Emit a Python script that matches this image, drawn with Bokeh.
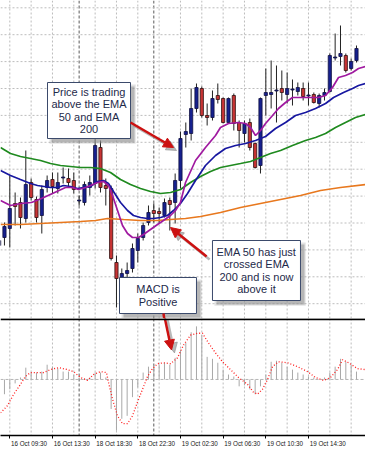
from bokeh.plotting import figure
from bokeh.models import Range1d, Span, Arrow, NormalHead, FixedTicker
from bokeh.layouts import column
from bokeh.embed import file_html
from bokeh.resources import INLINE
from bokeh.core.properties import value

# ---------------- data (30-minute bars) ----------------
bar_index = list(range(-2, 66))
opens = [73, 81, 90, 115, 116, 100, 136, 119, 103, 131, 139, 130, 140.5, 140, 138, 117.5, 116, 131,
         135, 171, 133, 130, 56, 41, 45, 50, 68, 81, 96, 108, 107, 103, 118, 116, 138, 184, 185, 210,
         230, 203, 201, 223, 220, 196, 223, 196, 185, 196, 175, 153, 223, 224, 227.5, 230, 224, 228.5,
         227, 230, 222.5, 224, 215, 223, 227, 260.5, 262, 263, 250, 258]
highs = [82, 96, 143, 126, 121, 168, 140, 122, 133, 143, 146, 146, 151, 150, 146, 123, 137, 143,
         180, 178, 140, 133, 63, 50, 56, 75, 85, 96, 113, 115, 111, 120, 121, 145, 187, 196, 230, 235,
         232, 215, 228, 235, 221, 221, 225, 198, 198, 200, 176, 221, 250, 258, 253, 248, 246, 239,
         236, 236, 236, 226, 225, 230, 265, 285, 293, 265, 260, 273]
lows = [63, 73, 71, 93, 90, 96, 118, 96, 85, 126, 125, 125, 135, 131, 125, 113, 113, 123,
        130, 126, 113, 58, 11, 35, 41, 46, 56, 78, 93, 96, 95, 101, 88, 95, 130, 171, 178, 206,
        201, 193, 198, 215, 195, 195, 188, 171, 176, 168, 150, 145, 203, 210, 196, 218, 215, 213,
        223, 218, 213, 215, 211, 218, 226, 258, 253, 246, 248, 256]
closes = [78, 92, 110, 112, 101, 134, 121, 101, 129, 138, 132, 136, 141.5, 136, 129, 118.5, 134, 136,
          173, 131, 130, 60, 40, 45, 48, 70, 80, 93, 106, 105, 105, 116, 114, 138, 180, 187, 210, 231,
          203, 201, 220, 219, 196, 220, 195, 188, 195, 171, 151, 220, 226, 226, 228.5, 226, 230, 229.5,
          231, 222, 223.5, 216, 223, 226, 263, 261.5, 265, 248, 257, 270]

# moving averages (bar position, level)
ema_fast_x = [-1.74, 0.13, 2.0, 4.07, 5.94, 8.0, 10.44, 11.76, 12.88, 14.2, 15.13, 16.44, 17.57, 18.5,
              19.26, 20.2, 21.13, 22.07, 23.0, 24.13, 25.07, 26.38, 27.7, 28.8, 30.13, 31.07, 32.0,
              32.95, 34.82, 36.69, 38.57, 39.5, 41.0, 42.88, 44.2, 45.13, 46.07, 47.0, 47.95, 49.26,
              50.38, 51.7, 53.0, 55.44, 57.88, 59.2, 60.5, 61.63, 62.94, 64.26, 65.38, 66.7]
ema_fast_y = [118, 113, 115, 116, 120, 125, 131, 131, 129, 131, 133, 136, 137, 133,
              123, 108, 93, 85, 81, 81, 84, 89, 94, 98, 103, 108, 116,
              136, 158, 171, 183, 191, 195, 196, 195, 191, 183, 188, 195, 203,
              210, 216, 221, 221, 221, 223, 231, 241, 243, 246, 250, 252]
ema50_x = [-1.74, 0.13, 2.0, 3.88, 5.19, 7.63, 8.94, 10.07, 11.38, 12.69, 13.82, 15.13, 16.44, 17.57,
           18.5, 19.44, 20.76, 22.07, 23.19, 24.51, 25.82, 26.94, 28.26, 29.57, 30.69, 32.0, 33.32,
           34.82, 36.69, 38.57, 40.44, 42.32, 44.2, 46.07, 47.95, 49.82, 51.7, 53.57, 55.44, 57.32,
           59.2, 60.7, 62.57, 64.26, 65.38, 66.7]
ema50_y = [148, 143, 139, 135, 133, 131, 131, 133, 132, 130, 131, 132, 137, 138,
           135, 127, 116, 108, 103, 101, 100, 100, 101, 103, 108, 115, 125,
           138, 153, 163, 170, 173, 175, 178, 182, 190, 196, 203, 206, 210,
           215, 221, 226, 230, 233, 235]
ema100_x = [-1.74, 0.13, 2.0, 3.88, 5.76, 7.63, 9.51, 11.38, 13.26, 15.13, 17.0, 18.88, 20.76, 22.63,
            24.51, 26.38, 28.26, 30.13, 32.0, 33.88, 35.76, 37.63, 39.51, 41.38, 43.26, 45.13, 47.0,
            48.88, 50.76, 53.0, 55.44, 57.32, 59.2, 61.07, 62.94, 64.82, 66.7]
ema100_y = [171, 165, 162, 160, 158, 155, 153, 152, 151, 151, 150, 146, 139, 134,
            130, 127, 125, 126, 129, 136, 142, 147, 151, 153, 155, 157, 161,
            165, 168, 173, 178, 181, 185, 191, 196, 201, 204]
ema200_x = [-1.74, 2.0, 5.76, 9.51, 13.26, 16.07, 18.32, 21.32, 24.51, 27.7, 30.13, 32.95, 35.76,
            39.51, 43.26, 47.0, 50.76, 54.51, 58.26, 62.0, 66.7]
ema200_y = [94, 94, 95, 96, 97, 98, 100, 99, 98, 98, 99, 100, 102,
            106, 111, 115, 119, 123, 128, 131, 134]

# MACD panel
macd_hist = [-20, -15, -10, -4, 2, 12, 7, 7, 8, 15, 13, 11, 8, 8, 5, 2, 1, 2, 7, 7, 2, -30, -52, -40,
             -37, -18, -8, 7, 13, 15, 15, 17, 15, 22, 30, 37, 48, 54, 45, 23, 21, 17, 10, 5, 3, -7,
             -6, -10, -15, -7, 5, 18, 19, 17, 13, 10, 7, 5, 3, 2, 0, 2, 7, 13, 21, 18, 15, 8]
signal_x = [-1.74, -0.49, 0.75, 2.0, 2.94, 3.88, 5.14, 6.32, 7.63, 9.13, 10.82, 11.94, 13.26, 14.57,
            15.69, 17.0, 18.13, 18.5, 19.26, 20.19, 21.13, 22.07, 23.0, 23.94, 24.88, 25.82, 26.76,
            27.7, 28.82, 30.13, 31.44, 32.57, 33.88, 35.19, 36.13, 37.26, 38.57, 39.88, 41.38, 42.88,
            44.57, 45.69, 46.44, 47.38, 48.32, 49.26, 50.38, 52.07, 53.94, 55.82, 57.32, 58.82, 60.13,
            61.44, 62.38, 63.51, 65.2, 66.7]
signal_y = [-34, -27, -15, -5, 3, 7, 7, 7, 10, 12, 10, 8, 2, -1,
            5, 8, 7, -3, -20, -37, -45, -45, -37, -23, -10, 3, 11,
            16, 17, 16, 22, 35, 45, 47, 47, 37, 27, 18, 10, 2,
            -5, -13, -15, -10, 0, 13, 18, 17, 13, 8, 2, -1, 2,
            10, 20, 17, 11, 10]

# axis / grid
tick_index = [0, 8, 16, 24, 32, 40, 48, 56]
tick_labels = ["16 Oct 09:30", "16 Oct 13:30", "18 Oct 18:30", "18 Oct 22:30",
               "19 Oct 02:30", "19 Oct 06:30", "19 Oct 10:30", "19 Oct 14:30"]
grid_index = list(range(0, 68, 4))
day_separators = [13, 27]
price_grid = [14.8, 41.7, 68.6, 95.5, 122.4, 149.3, 176.2, 203.1, 230.0, 256.9, 283.8, 310.7]

note_price = ["Price is trading", "above the EMA", "50 and EMA", "200"]
note_cross = ["EMA 50 has just", "crossed EMA", "200 and is now", "above it"]
note_macd = ["MACD is", "Positive"]

# ---------------- styling ----------------
W = 365
H1 = 318
H2 = 131
XR = Range1d(-1.744, 66.69)
FONT = "Liberation Sans"
BULL = "#16208e"
BEAR = "#c83434"
ARROW_RED = "#cc1111"
TEXT_COL = "#1e2a4a"
LABEL_SHIFT = 3.6   # tick labels in the reference start at the tick and run to the right

p1 = figure(width=W, height=H1, x_range=XR, y_range=Range1d(0, 318),
            toolbar_location=None, output_backend="svg",
            x_axis_location=None, y_axis_location=None,
            min_border=0, outline_line_color=None)
p1.grid.visible = False
p1.background_fill_color = "white"

p2 = figure(width=W, height=H2, x_range=XR, y_range=Range1d(-57, 62),
            toolbar_location=None, output_backend="svg",
            y_axis_location=None,
            min_border_left=0, min_border_right=0, min_border_top=0, min_border_bottom=12,
            outline_line_color=None)
p2.grid.visible = False

# grid lines
for g in grid_index:
    for p in (p1, p2):
        p.add_layout(Span(location=g, dimension="height", line_color="#bdbdbd",
                          line_dash="2 2", line_width=1, level="underlay"))
for d in day_separators:
    for p in (p1, p2):
        p.add_layout(Span(location=d, dimension="height", line_color="#5a5a5a",
                          line_dash="3 2", line_width=1, level="underlay"))
for lv in price_grid:
    p1.add_layout(Span(location=lv, dimension="width", line_color="#bdbdbd",
                       line_dash="2 2", line_width=1, level="underlay"))
p2.add_layout(Span(location=0, dimension="width", line_color="#b5b5b5",
                   line_dash="3 2", line_width=1, level="underlay"))

# candles
bull_x, bull_top, bull_bot, bear_x, bear_top, bear_bot = [], [], [], [], [], []
for x, o, c in zip(bar_index, opens, closes):
    if c >= o:
        bull_x.append(x); bull_top.append(c); bull_bot.append(o)
    else:
        bear_x.append(x); bear_top.append(o); bear_bot.append(c)
p1.segment(x0=bar_index, y0=lows, x1=bar_index, y1=highs, line_color="#222222", line_width=1)
p1.vbar(x=bull_x, width=0.6, top=bull_top, bottom=bull_bot, fill_color=BULL,
        line_color="#101040", line_width=0.8)
p1.vbar(x=bear_x, width=0.6, top=bear_top, bottom=bear_bot, fill_color=BEAR,
        line_color="#301010", line_width=0.8)

# moving averages
p1.line(ema200_x, ema200_y, line_color="#e8781e", line_width=1.7)
p1.line(ema100_x, ema100_y, line_color="#1f8a1f", line_width=1.7)
p1.line(ema50_x, ema50_y, line_color="#1717a0", line_width=1.7)
p1.line(ema_fast_x, ema_fast_y, line_color="#a01aa0", line_width=1.7)


def note(p, left, right, top, bottom, lines, line_step):
    dx, dy = 0.75, 4.0
    p.quad(left=left + dx, right=right + dx, top=top - dy, bottom=bottom - dy,
           fill_color="#8c8c8c", fill_alpha=0.55, line_color=None)
    p.quad(left=left + dx * 0.5, right=right + dx * 1.3, top=top - dy * 0.5, bottom=bottom - dy * 1.3,
           fill_color="#a0a0a0", fill_alpha=0.3, line_color=None)
    p.quad(left=left, right=right, top=top, bottom=bottom, fill_color="white",
           line_color="#3b4a6b", line_width=1)
    cx = (left + right) / 2
    cy = (top + bottom) / 2
    n = len(lines)
    ys = [cy + (n - 1) / 2 * line_step - k * line_step for k in range(n)]
    p.text(x=[cx] * n, y=ys, text=lines, text_align="center", text_baseline="middle",
           text_font=value(FONT), text_font_size="11px", text_color=TEXT_COL)


def red_arrow(p, xs, ys, xe, ye, sx=0.56, sy=3.0):
    p.add_layout(Arrow(end=NormalHead(size=10, fill_color="#8a8a8a", fill_alpha=0.6,
                                      line_color="#8a8a8a", line_alpha=0.6),
                       x_start=xs + sx, y_start=ys - sy, x_end=xe + sx, y_end=ye - sy,
                       line_color="#8a8a8a", line_alpha=0.6, line_width=2.5))
    p.add_layout(Arrow(end=NormalHead(size=10, fill_color=ARROW_RED, line_color=ARROW_RED),
                       x_start=xs, y_start=ys, x_end=xe, y_end=ye,
                       line_color=ARROW_RED, line_width=2.5))


note(p1, 7.07, 22.63, 236, 180, note_price, 12.3)
note(p1, 38.0, 54.5, 78, 18, note_cross, 12.3)
note(p1, 20.57, 35.0, 41, 5, note_macd, 13.0)

red_arrow(p1, 22.63, 196, 30.7, 171)
red_arrow(p1, 36.9, 62, 30.13, 91)
p1.segment(x0=[28.82], y0=[5], x1=[29.0], y1=[-2], line_color=ARROW_RED, line_width=2.5)

# MACD
p2.segment(x0=bar_index, y0=[0] * len(bar_index), x1=bar_index, y1=macd_hist,
           line_color="#a8a8a8", line_width=1)
p2.line(signal_x, signal_y, line_color="#ff1a1a", line_dash="1 2", line_width=1.3)
red_arrow(p2, 29.0, 64, 30.32, 30)
p2.add_layout(Span(location=61.2, dimension="width", line_color="black", line_width=2))

label_pos = [t + LABEL_SHIFT for t in tick_index]
p2.xaxis.ticker = FixedTicker(ticks=label_pos, minor_ticks=tick_index)
p2.xaxis.major_label_overrides = {pos: lab for pos, lab in zip(label_pos, tick_labels)}
p2.xaxis.major_label_text_font = FONT
p2.xaxis.major_label_text_font_size = "6.3px"
p2.xaxis.major_label_text_color = "#202020"
p2.xaxis.major_label_standoff = 1
p2.xaxis.major_tick_out = 0
p2.xaxis.major_tick_in = 0
p2.xaxis.major_tick_line_color = None
p2.xaxis.minor_tick_out = 3
p2.xaxis.minor_tick_in = 0
p2.xaxis.minor_tick_line_color = "black"
p2.xaxis.axis_line_color = "black"
p2.xaxis.axis_line_width = 1.5

layout = column(p1, p2, spacing=0)
open("out.html", "w").write(file_html(layout, INLINE))
